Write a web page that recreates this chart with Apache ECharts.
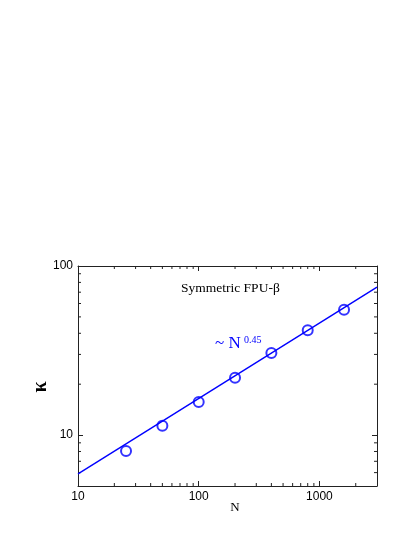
<!DOCTYPE html>
<html><head><meta charset="utf-8">
<script src="https://cdn.jsdelivr.net/npm/echarts@6/dist/echarts.min.js"></script>
<style>html,body{margin:0;padding:0;background:#fff}#c{width:415px;height:537px}</style>
</head><body><div id="c"></div>
<script>
// ---- data ----
const sizesN = [25, 50, 100, 200, 400, 800, 1600];
const kappaValues = [8.05, 11.35, 15.7, 21.8, 30.6, 41.7, 55.2];
const fitN = [10, 3000];
const fitKappa = [5.9, 75];
const xMinorTicks = [20, 30, 40, 50, 60, 70, 80, 90, 200, 300, 400, 500, 600, 700, 800, 900, 2000];
const yMinorTicks = [6, 7, 8, 9, 20, 30, 40, 50, 60, 70, 80, 90];
const xMajorLabels = [10, 100, 1000];
const yMajorLabels = [10, 100];
const titleText = 'Symmetric FPU-\u03b2';
const fitLabel = '~ N';
const fitExponent = '0.45';
const xName = 'N';
const yName = '\u03ba';

const BLUE = '#0000ff';
const AX = '#222';
const chart = echarts.init(document.getElementById('c'), null, {renderer: 'canvas'});

function labelFmt(list) {
  return function (v) {
    for (const m of list) { if (Math.abs(v - m) / m < 1e-6) return String(m); }
    return '';
  };
}
const axisCommon = {
  axisLine: {show: true, onZero: false, lineStyle: {color: AX, width: 1}},
  axisTick: {show: true, inside: true, length: 5, lineStyle: {color: AX, width: 1}},
  splitLine: {show: false},
  minorTick: {show: false}
};

function minorTickRender(isX, len) {
  return function (params, api) {
    const cs = params.coordSys;
    const v = api.value(0);
    if (isX) {
      const x = api.coord([v, 10])[0];
      return {type: 'group', children: [
        {type: 'line', shape: {x1: x, y1: cs.y + cs.height, x2: x, y2: cs.y + cs.height - len}, style: {stroke: AX, lineWidth: 1}},
        {type: 'line', shape: {x1: x, y1: cs.y, x2: x, y2: cs.y + len}, style: {stroke: AX, lineWidth: 1}}
      ]};
    } else {
      const y = api.coord([100, v])[1];
      return {type: 'group', children: [
        {type: 'line', shape: {x1: cs.x, y1: y, x2: cs.x + len, y2: y}, style: {stroke: AX, lineWidth: 1}},
        {type: 'line', shape: {x1: cs.x + cs.width, y1: y, x2: cs.x + cs.width - len, y2: y}, style: {stroke: AX, lineWidth: 1}}
      ]};
    }
  };
}

chart.setOption({
  animation: false,
  backgroundColor: '#fff',
  grid: {left: 78, top: 266, right: 38, bottom: 51, containLabel: false},
  xAxis: [
    Object.assign({type: 'log', logBase: 10, min: 10, max: 3000, position: 'bottom',
      axisLabel: {show: true, formatter: labelFmt(xMajorLabels), fontFamily: 'Liberation Sans', fontSize: 12, color: '#000', margin: 5, showMinLabel: true, showMaxLabel: false}}, axisCommon),
    Object.assign({type: 'log', logBase: 10, min: 10, max: 3000, position: 'top',
      axisLabel: {show: false}}, axisCommon)
  ],
  yAxis: [
    Object.assign({type: 'log', logBase: 10, min: 5, max: 100, position: 'left',
      axisLabel: {show: true, formatter: labelFmt(yMajorLabels), fontFamily: 'Liberation Sans', fontSize: 12, color: '#000', margin: 5, showMinLabel: false, showMaxLabel: true}}, axisCommon),
    Object.assign({type: 'log', logBase: 10, min: 5, max: 100, position: 'right',
      axisLabel: {show: false}}, axisCommon)
  ],
  series: [
    {type: 'custom', xAxisIndex: 0, yAxisIndex: 0, renderItem: minorTickRender(true, 3),
      data: xMinorTicks.map(v => [v]), silent: true, clip: false, z: 1},
    {type: 'custom', xAxisIndex: 0, yAxisIndex: 0, renderItem: minorTickRender(false, 3),
      data: yMinorTicks.map(v => [v]), silent: true, clip: false, z: 1},
    {type: 'line', xAxisIndex: 0, yAxisIndex: 0, data: fitN.map((n, i) => [n, fitKappa[i]]),
      showSymbol: false, lineStyle: {color: BLUE, width: 1.4}, z: 2, silent: true},
    {type: 'scatter', xAxisIndex: 0, yAxisIndex: 0, data: sizesN.map((n, i) => [n, kappaValues[i]]),
      symbol: 'circle', symbolSize: 10,
      itemStyle: {color: 'rgba(0,0,0,0)', borderColor: BLUE, borderWidth: 2}, z: 3, silent: true}
  ],
  graphic: [
    {type: 'text', x: 181, y: 288, style: {text: titleText, font: '13.5px "Liberation Serif"', fill: '#000', verticalAlign: 'middle', align: 'left'}},
    {type: 'text', x: 215, y: 344, style: {text: fitLabel, font: '17px "Liberation Serif"', fill: BLUE, verticalAlign: 'middle', align: 'left'}},
    {type: 'text', x: 244, y: 340, style: {text: fitExponent, font: '10px "Liberation Serif"', fill: BLUE, verticalAlign: 'middle', align: 'left'}},
    {type: 'text', x: 235, y: 508, style: {text: xName, font: '13px "Liberation Serif"', fill: '#000', verticalAlign: 'middle', align: 'center'}},
    {type: 'text', x: 41, y: 387, rotation: Math.PI / 2, style: {text: yName, font: 'bold 20px "Liberation Serif"', fill: '#000', verticalAlign: 'middle', align: 'center'}}
  ]
});
</script>
</body></html>
